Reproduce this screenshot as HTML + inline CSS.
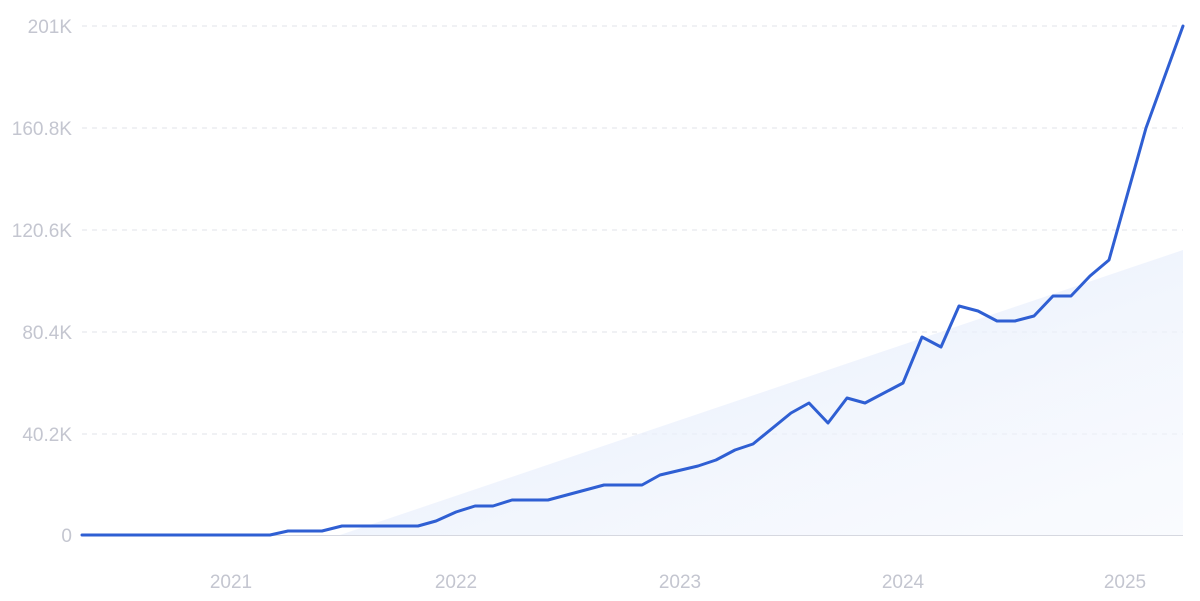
<!DOCTYPE html>
<html><head><meta charset="utf-8"><style>
html,body{margin:0;padding:0;background:#fff;}
svg{display:block;}
text{font-family:"Liberation Sans",sans-serif;font-size:19px;fill:#c4c6d0;}
</style></head><body>
<svg width="1200" height="601" viewBox="0 0 1200 601">
<defs>
<linearGradient id="g" x1="0" y1="0" x2="1" y2="1">
<stop offset="0" stop-color="#dfe9fb" stop-opacity="0.9"/>
<stop offset="1" stop-color="#f4f7fd" stop-opacity="0.5"/>
</linearGradient>
</defs>
<g stroke="#e2e3e8" stroke-width="1" stroke-dasharray="5,5">
<line x1="82" y1="26" x2="1183" y2="26"/>
<line x1="82" y1="128" x2="1183" y2="128"/>
<line x1="82" y1="230" x2="1183" y2="230"/>
<line x1="82" y1="332" x2="1183" y2="332"/>
<line x1="82" y1="434" x2="1183" y2="434"/>
</g>
<polygon points="340,535 1183,250 1183,535" fill="url(#g)"/>
<line x1="82" y1="535.5" x2="1183" y2="535.5" stroke="#d6d8e0" stroke-width="1"/>
<g text-anchor="end">
<text x="72" y="33">201K</text>
<text x="72" y="135">160.8K</text>
<text x="72" y="237">120.6K</text>
<text x="72" y="339">80.4K</text>
<text x="72" y="441">40.2K</text>
<text x="72" y="542">0</text>
</g>
<g text-anchor="middle">
<text x="231" y="588">2021</text>
<text x="456" y="588">2022</text>
<text x="680" y="588">2023</text>
<text x="903" y="588">2024</text>
<text x="1125" y="588">2025</text>
</g>
<polyline fill="none" stroke="#2f5fd3" stroke-width="3" stroke-linejoin="round" stroke-linecap="round"
points="82,535 270,535 288,531 322,531 342,526 418,526 436,521 456,512 475,506 493,506 512,500 548,500 604,485 642,485 660,475 698,466 716,460 735,450 753,444 791,413 809,403 828,423 847,398 865,403 903,383 922,337 941,347 959,306 978,311 997,321 1015,321 1034,316 1053,296 1071,296 1090,276 1109,260 1146,128 1183,26"/>
</svg>
</body></html>
